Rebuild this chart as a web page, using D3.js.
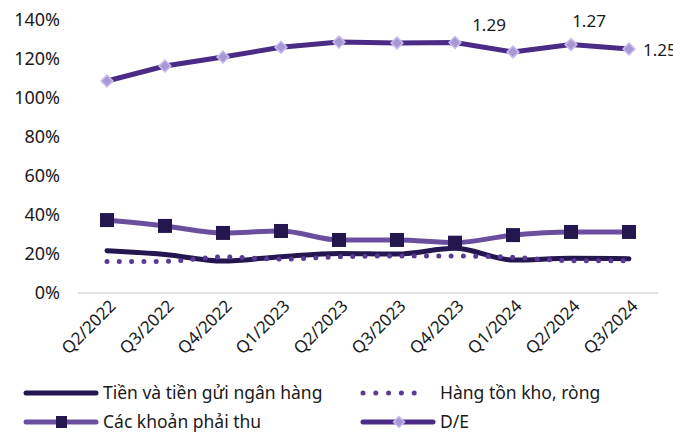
<!DOCTYPE html>
<html>
<head>
<meta charset="utf-8">
<script src="https://cdn.jsdelivr.net/npm/d3@7"></script>
<style>
  body { margin: 0; background: #fff; }
  text { font-family: "Noto Sans", "Open Sans", sans-serif; fill: #1a1a1a; }
</style>
</head>
<body>
<svg id="vis" width="673" height="432"></svg>
<script>
const quarters = ['Q2/2022', 'Q3/2022', 'Q4/2022', 'Q1/2023', 'Q2/2023', 'Q3/2023', 'Q4/2023', 'Q1/2024', 'Q2/2024', 'Q3/2024'];
const cash = [21.7, 19.8, 16.4, 18.6, 20.3, 20.0, 22.9, 16.9, 17.8, 17.6];
const inventory = [16.1, 16.2, 18.5, 17.4, 18.6, 19.0, 19.0, 18.3, 16.6, 16.6];
const receivables = [37.4, 34.4, 30.8, 31.8, 27.2, 27.2, 25.8, 29.7, 31.3, 31.3];
const debtToEquity = [108.7, 116.4, 121.0, 126.0, 128.7, 128.2, 128.5, 123.6, 127.4, 125.1];
const deLabels = [null, null, null, null, null, null, '1.29', null, '1.27', '1.25'];
const yTicks = [0, 20, 40, 60, 80, 100, 120, 140];

const svg = d3.select('#vis');
const x = d3.scaleBand().domain(quarters).range([78, 658]);
const y = d3.scaleLinear().domain([0, 140]).range([293, 20]);
const cx = d => x(d) + x.bandwidth() / 2;

// baseline
svg.append('line')
  .attr('x1', 78).attr('x2', 658)
  .attr('y1', y(0)).attr('y2', y(0))
  .attr('stroke', '#d9d9d9').attr('stroke-width', 1.5);

// y axis labels
svg.append('g').selectAll('text').data(yTicks).enter()
  .append('text')
    .attr('x', 60)
    .attr('y', d => y(d))
    .attr('dy', '0.35em')
    .attr('text-anchor', 'end')
    .style('font-size', '18px')
    .text(d => d + '%');

// x labels
svg.append('g').selectAll('text').data(quarters).enter()
  .append('text')
    .attr('transform', d => 'translate(' + (cx(d) + 10) + ',' + 307 + ') rotate(-45)')
    .attr('text-anchor', 'end')
    .style('font-size', '17px')
    .text(d => d);

const line = curve => d3.line()
  .x((d, i) => cx(quarters[i]))
  .y(d => y(d))
  .curve(curve);

// Tiền và tiền gửi ngân hàng
svg.append('path').datum(cash)
  .attr('d', line(d3.curveMonotoneX))
  .attr('fill', 'none').attr('stroke', '#24174f')
  .attr('stroke-width', 5).attr('stroke-linecap', 'round');

// Hàng tồn kho, ròng
svg.append('path').datum(inventory)
  .attr('d', line(d3.curveMonotoneX))
  .attr('fill', 'none').attr('stroke', '#5a3a94')
  .attr('stroke-width', 5).attr('stroke-linecap', 'round')
  .attr('stroke-dasharray', '0 12.3');

// Các khoản phải thu
svg.append('path').datum(receivables)
  .attr('d', line(d3.curveMonotoneX))
  .attr('fill', 'none').attr('stroke', '#6b4f9f')
  .attr('stroke-width', 5);
svg.append('g').selectAll('rect').data(receivables).enter()
  .append('rect')
    .attr('x', (d, i) => cx(quarters[i]) - 7)
    .attr('y', d => y(d) - 7)
    .attr('width', 14).attr('height', 14)
    .attr('fill', '#24174f');

// D/E
svg.append('path').datum(debtToEquity)
  .attr('d', line(d3.curveLinear))
  .attr('fill', 'none').attr('stroke', '#4a2c87')
  .attr('stroke-width', 5);
svg.append('g').selectAll('path').data(debtToEquity).enter()
  .append('path')
    .attr('d', d3.symbol(d3.symbolSquare, 70))
    .attr('transform', (d, i) => 'translate(' + cx(quarters[i]) + ',' + y(d) + ') rotate(45)')
    .attr('fill', '#a797d2').attr('stroke', '#c9baf0').attr('stroke-width', 1.5);

const labelOffset = { 'Q4/2023': [34, -17], 'Q2/2024': [18, -24], 'Q3/2024': [14, 1] };
svg.append('g').selectAll('text').data(quarters.filter((q, i) => deLabels[i])).enter()
  .append('text')
    .attr('x', q => cx(q) + labelOffset[q][0])
    .attr('y', q => y(debtToEquity[quarters.indexOf(q)]) + labelOffset[q][1])
    .attr('dy', '0.35em')
    .attr('text-anchor', q => q === 'Q3/2024' ? 'start' : 'middle')
    .style('font-size', '17px')
    .text(q => deLabels[quarters.indexOf(q)]);

// legend
const legend = [
  { name: 'Tiền và tiền gửi ngân hàng', color: '#24174f', x: 26, y: 393, type: 'line' },
  { name: 'Hàng tồn kho, ròng', color: '#5a3a94', x: 363, y: 393, type: 'dots' },
  { name: 'Các khoản phải thu', color: '#6b4f9f', x: 26, y: 422, type: 'square' },
  { name: 'D/E', color: '#4a2c87', x: 363, y: 422, type: 'diamond' }
];
const lg = svg.append('g').selectAll('g').data(legend).enter()
  .append('g').attr('transform', d => 'translate(' + d.x + ',' + d.y + ')');
lg.append('line')
  .attr('x1', 0).attr('x2', d => d.type === 'dots' ? 64 : 70)
  .attr('stroke', d => d.color).attr('stroke-width', 5).attr('stroke-linecap', 'round')
  .attr('stroke-dasharray', d => d.type === 'dots' ? '0 12.8' : null);
lg.filter(d => d.type === 'square').append('rect')
  .attr('x', 30).attr('y', -6).attr('width', 11).attr('height', 12).attr('fill', '#24174f');
lg.filter(d => d.type === 'diamond').append('path')
  .attr('d', d3.symbol(d3.symbolSquare, 60))
  .attr('transform', 'translate(36,0) rotate(45)')
  .attr('fill', '#a797d2').attr('stroke', '#c9baf0').attr('stroke-width', 1.5);
lg.append('text')
  .attr('x', 77)
  .attr('dy', '0.35em')
  .style('font-size', '17.5px')
  .text(d => d.name);
</script>
</body>
</html>
